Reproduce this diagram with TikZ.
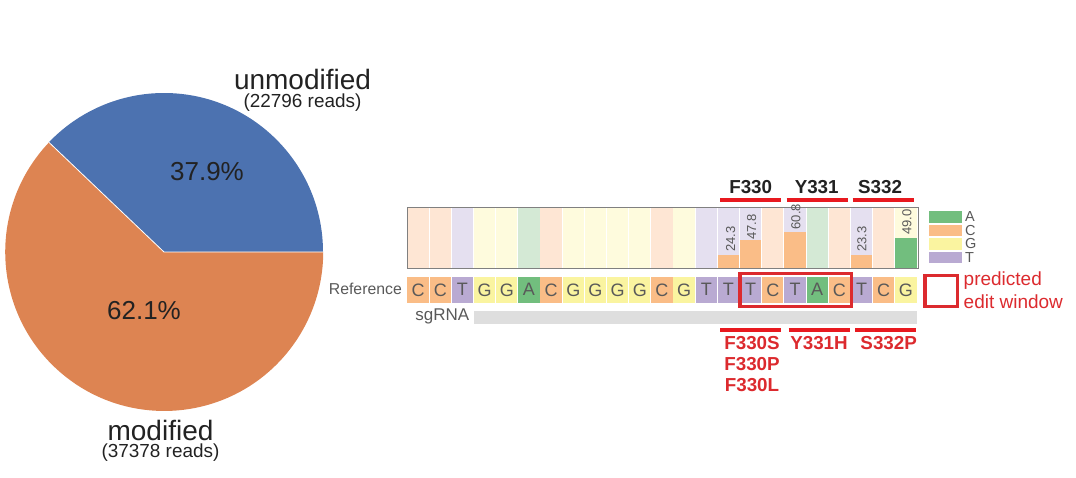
\documentclass[tikz,border=0pt]{standalone}
\usepackage{fontspec}
\setmainfont{Liberation Sans}

\definecolor{pieBlue}{HTML}{4C72B0}
\definecolor{pieOrange}{HTML}{DD8452}
\definecolor{baseA}{HTML}{72BE7E}
\definecolor{baseC}{HTML}{FABD87}
\definecolor{baseG}{HTML}{FAF4A0}
\definecolor{baseT}{HTML}{B9AAD2}
\definecolor{paleA}{HTML}{D4E9D5}
\definecolor{paleC}{HTML}{FEE6D4}
\definecolor{paleG}{HTML}{FEFBDD}
\definecolor{paleT}{HTML}{E5E0F0}
\definecolor{textGray}{HTML}{595959}
\definecolor{pieText}{HTML}{222222}
\definecolor{editRed}{HTML}{DC2A2E}
\definecolor{barRed}{HTML}{E8191F}

\tikzset{
  plain/.style = {inner sep = 0pt, text = pieText, font = \fontsize{#1}{#1}\selectfont},
  cell/.style = {minimum width = 21.3pt, minimum height = 25.6pt, inner sep = 0pt,
    fill = base#1, text = textGray, font = \fontsize{18}{18}\selectfont},
  column/.style = {minimum width = 21.3pt, minimum height = 61pt, inner sep = 0pt, fill = pale#1},
  bar/.style = {inner sep = 0pt, minimum width = 21.3pt, anchor = south, fill = base#1},
  value/.style = {rotate = 90, inner sep = 0pt, text = textGray, font = \fontsize{13}{13}\selectfont},
  swatch/.style = {minimum width = 33pt, minimum height = 11.5pt, inner sep = 0pt, fill = base#1},
  key/.style = {inner sep = 0pt, text = textGray, font = \fontsize{14.5}{14.5}\selectfont},
  residue/.style = {inner sep = 0pt, text = pieText, font = \fontsize{18.8}{18.8}\bfseries\selectfont},
  mutation/.style = {residue, text = editRed},
  mark line/.style = {draw = barRed, line width = 3.8pt},
  window/.style = {draw = editRed, line width = 3.2pt}
}

\begin{document}
\begin{tikzpicture}[x = 1pt, y = -1pt]
  \useasboundingbox (0, 0) rectangle (1076, 477);

  % pie chart
  \coordinate (O) at (164, 252);
  \fill[pieBlue] (O) -- (323, 252) arc[start angle = 0, end angle = -136.44, radius = 159] -- cycle;
  \fill[pieOrange] (O) -- (49.0, 142.4) arc[start angle = -136.44, end angle = -360, radius = 159] -- cycle;
  \draw[white, line width = 0.8pt] (323, 252) -- (O) -- (49.0, 142.4);

  \node[plain = 28] (unmodified) at (302.5, 79.5) {unmodified};
  \node[plain = 18.9] (unmodifiedReads) at (302.5, 103) {(22796 reads)};
  \node[plain = 28] (modified) at (160.5, 430.5) {modified};
  \node[plain = 18.9] (modifiedReads) at (160.5, 453) {(37378 reads)};
  \node[plain = 26] (pctUnmodified) at (207, 172) {37.9\%};
  \node[plain = 26] (pctModified) at (144, 311) {62.1\%};

  % frequency panel
  \foreach \i/\base in {0/C, 1/C, 2/T, 3/G, 4/G, 5/A, 6/C, 7/G, 8/G, 9/G, 10/G, 11/C, 12/G,
      13/T, 14/T, 15/T, 16/C, 17/T, 18/A, 19/C, 20/T, 21/C, 22/G} {
    \node[column = \base] (col\i) at (418.1 + 22.17 * \i, 238) {};
    \node[cell = \base] (ref\i) at (418.1 + 22.17 * \i, 289.8) {\base};
  }
  \node[bar = C, minimum height = 14pt] (bar14) at (col14.south) {};
  \node[bar = C, minimum height = 28.7pt] (bar15) at (col15.south) {};
  \node[bar = C, minimum height = 36.7pt] (bar17) at (col17.south) {};
  \node[bar = C, minimum height = 14pt] (bar20) at (col20.south) {};
  \node[bar = A, minimum height = 30.7pt] (bar22) at (col22.south) {};
  \draw[black!50, line width = 1pt] (407, 207.5) rectangle (918, 268.5);

  \node[value] (val14) at (730.7, 239) {24.3};
  \node[value] (val15) at (751.7, 227) {47.8};
  \node[value] (val17) at (796, 216.7) {60.8};
  \node[value] (val20) at (862, 239) {23.3};
  \node[value] (val22) at (907, 222) {49.0};

  % reference row
  \node[plain = 15.8, text = textGray, anchor = east] (reference) at (402, 288.5) {Reference};
  \node[plain = 17, text = textGray, anchor = east] (sgrna) at (469.5, 316) {sgRNA};
  \fill[black!13] (474, 310.7) rectangle (917, 324);
  \draw[window] (740, 273.2) rectangle (851.5, 306.3);

  % residues above
  \draw[mark line] (720.3, 200) -- (781.3, 200);
  \draw[mark line] (786.7, 200) -- (847.5, 200);
  \draw[mark line] (852.7, 200) -- (913.7, 200);
  \node[residue] (f330) at (750.7, 187) {F330};
  \node[residue] (y331) at (816.7, 187) {Y331};
  \node[residue] (s332) at (880, 187) {S332};

  % mutations below
  \draw[mark line] (720.3, 330.3) -- (781.3, 330.3);
  \draw[mark line] (788.7, 330.3) -- (849.7, 330.3);
  \draw[mark line] (855, 330.3) -- (916, 330.3);
  \node[mutation] (f330s) at (752, 343.5) {F330S};
  \node[mutation] (f330p) at (752, 364) {F330P};
  \node[mutation] (f330l) at (752, 385) {F330L};
  \node[mutation] (y331h) at (819, 343.5) {Y331H};
  \node[mutation] (s332p) at (888.7, 343.5) {S332P};

  % legend
  \foreach \base/\y in {A/217, C/230.5, G/244, T/257.5} {
    \node[swatch = \base] (sw\base) at (945.5, \y) {};
    \node[key, right = 0pt] (key\base) at (965, \y) {\base};
  }
  \draw[window] (925, 275.5) rectangle (957.5, 306.5);
  \node[plain = 19, text = editRed, anchor = west] (predicted) at (963.5, 281) {predicted};
  \node[plain = 19, text = editRed, anchor = west] (editwindow) at (963.5, 301.5) {edit window};
\end{tikzpicture}
\end{document}
